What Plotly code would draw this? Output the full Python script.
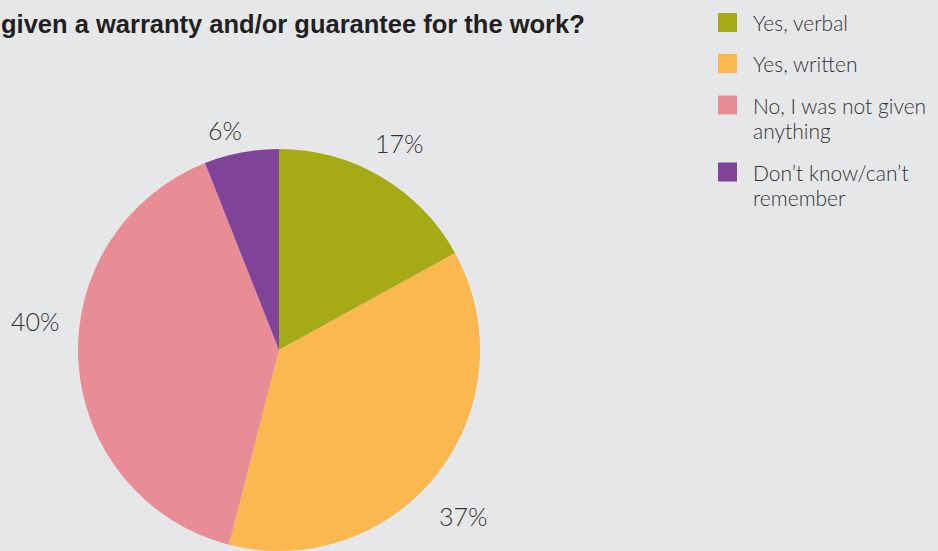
import plotly.graph_objects as go

# Survey answers, clockwise from 12 o'clock
labels = ["Yes, verbal", "Yes, written", "No, I was not given anything", "Don\u2019t know/can\u2019t remember"]
legend_lines = [["Yes, verbal"], ["Yes, written"], ["No, I was not given", "anything"], ["Don\u2019t know/can\u2019t", "remember"]]
values = [17, 37, 40, 6]
colors = ["#A6AA14", "#FBB84E", "#E88D95", "#7F4498"]

title_text = "given a warranty and/or guarantee for the work?"

W, H = 938, 551
BG = "#E6E7E9"
TXT = "#333333"


def px(x):
    return x / W


def py(y):
    return 1 - y / H


fig = go.Figure()
fig.add_trace(go.Pie(
    labels=labels,
    values=values,
    marker=dict(colors=colors, line=dict(width=0)),
    sort=False,
    direction="clockwise",
    rotation=0,
    textinfo="none",
    hoverinfo="label+percent",
    showlegend=False,
    domain=dict(x=[px(279 - 240), px(279 + 240)], y=[0, 2 * 201 / H]),
))

annotations = []

# Percentage labels around the pie
label_pos = [(399, 143), (463, 516), (35, 321), (225, 130)]
for v, (lx, ly) in zip(values, label_pos):
    annotations.append(dict(
        x=px(lx), y=py(ly), xref="paper", yref="paper",
        text=f"{v}%", showarrow=False, xanchor="center", yanchor="middle",
        font=dict(family="Lato, Roboto, sans-serif", size=25, color=TXT, weight=300),
    ))

# Title (bold heading along the top)
annotations.append(dict(
    x=px(-1), y=py(24), xref="paper", yref="paper",
    text=f"<b>{title_text}</b>", showarrow=False, xanchor="left", yanchor="middle",
    font=dict(family="Liberation Sans, Arial, sans-serif", size=25.5, color="#231F20"),
))

# Legend built from the same colours and labels
shapes = []
legend_y = [22.5, 63.5, 105, 172]
line_gap = 25
for col, lines, ly in zip(colors, legend_lines, legend_y):
    shapes.append(dict(
        type="rect", xref="paper", yref="paper",
        x0=px(718), x1=px(737), y0=py(ly - 9.5), y1=py(ly + 9.5),
        fillcolor=col, line=dict(width=0),
    ))
    for i, t in enumerate(lines):
        annotations.append(dict(
            x=px(751), y=py(ly + i * line_gap), xref="paper", yref="paper",
            text=t, showarrow=False, xanchor="left", yanchor="middle",
            font=dict(family="Lato, Roboto, sans-serif", size=21, color=TXT, weight=300),
        ))

fig.update_layout(
    width=W, height=H,
    margin=dict(l=0, r=0, t=0, b=0),
    paper_bgcolor=BG, plot_bgcolor=BG,
    annotations=annotations, shapes=shapes,
    showlegend=False,
)

fig.write_html("out.html")
